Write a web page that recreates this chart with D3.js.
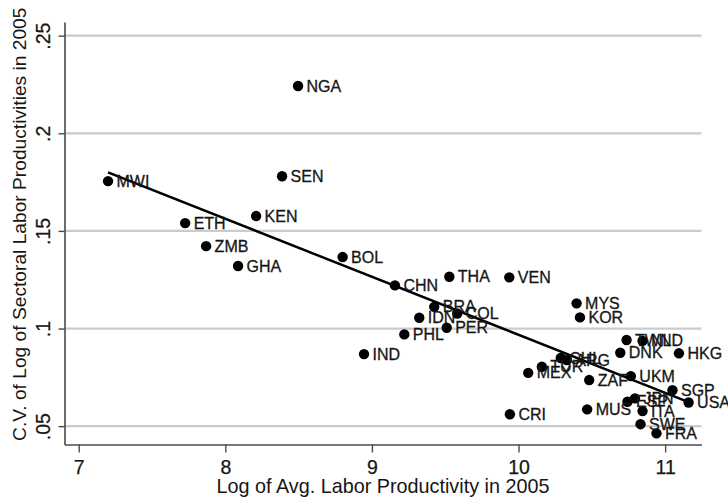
<!DOCTYPE html>
<html>
<head>
<meta charset="utf-8">
<script src="https://cdn.jsdelivr.net/npm/d3@7"></script>
<style>
  html, body { margin: 0; padding: 0; background: #fff; }
  svg { display: block; font-family: "Liberation Sans", Arial, Helvetica, sans-serif; }
</style>
</head>
<body>
<svg id="chart" width="728" height="501"></svg>
<script>
// Country codes with log average labor productivity and C.V. of log sectoral productivity (2005)
const countries = ["MWI","ETH","ZMB","GHA","KEN","SEN","NGA","BOL","IND","CHN","PHL","IDN","BRA","PER","COL","THA","VEN","CRI","MEX","TUR","CHL","ARG","MYS","KOR","ZAF","MUS","TWN","NLD","DNK","HKG","UKM","ESP","JPN","ITA","SWE","FRA","SGP","USA"];
const logProd   = [7.20, 7.726, 7.869, 8.087, 8.21, 8.387, 8.496, 8.80, 8.946, 9.157, 9.221, 9.323, 9.425, 9.51, 9.582, 9.528, 9.937, 9.941, 10.066, 10.159, 10.288, 10.329, 10.396, 10.419, 10.482, 10.468, 10.737, 10.846, 10.694, 11.094, 10.766, 10.743, 10.794, 10.846, 10.832, 10.941, 11.05, 11.16];
const cvLog     = [0.1755, 0.154, 0.1422, 0.132, 0.1576, 0.178, 0.2242, 0.1366, 0.0869, 0.1221, 0.0970, 0.1055, 0.1111, 0.1004, 0.1077, 0.1265, 0.1262, 0.0561, 0.0773, 0.0804, 0.0849, 0.0838, 0.1129, 0.1057, 0.0736, 0.0586, 0.0941, 0.0937, 0.0876, 0.0873, 0.0756, 0.0625, 0.0642, 0.0577, 0.0510, 0.0463, 0.0684, 0.0621];

// Fitted line end points
const fitX = [7.20, 11.16];
const fitY = [0.1800, 0.0623];

// Tick values and their labels
const xTicks = [7, 8, 9, 10, 11];
const yTicks = [0.05, 0.10, 0.15, 0.20, 0.25];
const yTickLabels = [".05", ".1", ".15", ".2", ".25"];

const xTitle = "Log of Avg. Labor Productivity in 2005";
const yTitle = "C.V. of Log of Sectoral Labor Productivities in 2005";

const svg = d3.select("#chart");
const plotLeft = 64.5, plotRight = 701.5, plotTop = 22, plotBottom = 444.5;
const ink = "#161616";

const x = d3.scaleLinear().domain([6.903, 11.248]).range([plotLeft, plotRight]);
const y = d3.scaleLinear().domain([0.0406, 0.257]).range([plotBottom, plotTop]);

// Horizontal grid lines
svg.append("g").selectAll("line").data(yTicks).join("line")
  .attr("x1", plotLeft).attr("x2", plotRight)
  .attr("y1", d => y(d)).attr("y2", d => y(d))
  .attr("stroke", "#cbcbcb").attr("stroke-width", 2.2);

// X axis
const gx = svg.append("g").attr("transform", `translate(0,${plotBottom})`)
  .call(d3.axisBottom(x).tickValues(xTicks).tickFormat(d3.format("d")).tickSize(8).tickSizeOuter(0));
gx.select(".domain").attr("stroke", "#4a4a4a").attr("stroke-width", 1.6);
gx.selectAll(".tick line").attr("stroke", "#4a4a4a").attr("stroke-width", 1.4);
gx.selectAll(".tick text")
  .attr("y", 16).attr("dy", "0.71em")
  .attr("fill", ink).attr("stroke", ink).attr("stroke-width", 0.25)
  .style("font-size", "19.5px");

// Y axis with vertical tick labels
const gy = svg.append("g").attr("transform", `translate(${plotLeft},0)`)
  .call(d3.axisLeft(y).tickValues(yTicks).tickFormat((d, i) => yTickLabels[i]).tickSize(6).tickSizeOuter(0));
gy.select(".domain").attr("stroke", "#4a4a4a").attr("stroke-width", 1.6);
gy.selectAll(".tick line").attr("stroke", "#4a4a4a").attr("stroke-width", 1.4);
gy.selectAll(".tick text")
  .attr("transform", "rotate(-90)")
  .attr("x", 0).attr("y", -15).attr("dy", 0)
  .attr("text-anchor", "middle")
  .attr("fill", ink).attr("stroke", ink).attr("stroke-width", 0.25)
  .style("font-size", "19.5px");

// Axis titles
svg.append("text")
  .attr("x", (214 + 552) / 2).attr("y", 493)
  .attr("text-anchor", "middle")
  .attr("fill", ink)
  .style("font-size", "19.8px")
  .text(xTitle);

svg.append("text")
  .attr("transform", `translate(26,${(plotTop + plotBottom) / 2 - 9}) rotate(-90)`)
  .attr("text-anchor", "middle")
  .attr("fill", ink)
  .style("font-size", "19.2px")
  .text(yTitle);

// Fitted line
svg.append("path")
  .datum(fitX.map((v, i) => [v, fitY[i]]))
  .attr("d", d3.line().x(d => x(d[0])).y(d => y(d[1])))
  .attr("fill", "none").attr("stroke", "#000").attr("stroke-width", 2.5);

// Country points and labels
const pts = countries.map((c, i) => ({ c, px: logProd[i], cv: cvLog[i] }));
const g = svg.append("g");
g.selectAll("circle").data(pts).join("circle")
  .attr("cx", d => x(d.px)).attr("cy", d => y(d.cv))
  .attr("r", 5.2).attr("fill", "#000");
g.selectAll("text").data(pts).join("text")
  .attr("x", d => x(d.px) + 8.5).attr("y", d => y(d.cv))
  .attr("dy", "0.35em")
  .attr("fill", ink).attr("stroke", ink).attr("stroke-width", 0.3)
  .style("font-size", "16px")
  .text(d => d.c);
</script>
</body>
</html>
